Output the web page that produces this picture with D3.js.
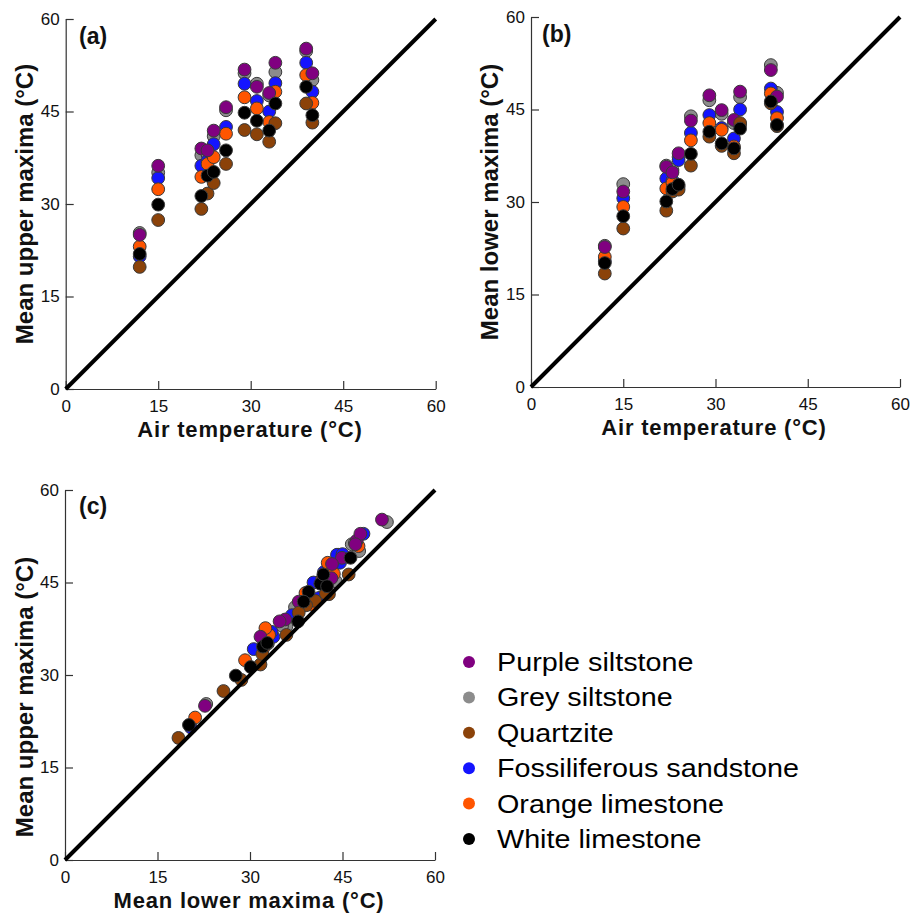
<!DOCTYPE html>
<html>
<head>
<meta charset="utf-8">
<script src="https://cdn.jsdelivr.net/npm/d3@7"></script>
<style>
    body { margin: 0; background: #fff; }
    svg text { font-family: Arial, 'Liberation Sans', sans-serif; }
    .axis path, .axis line { stroke: #333; stroke-width: 1.2; }
    .axis text { font-size: 17px; fill: #111; }
    .axisTitle { font-size: 22px; font-weight: bold; fill: #111; }
    .panelLabel { font-size: 23px; font-weight: bold; fill: #111; }
    .legendText { font-size: 25px; fill: #000; }
</style>
</head>
<body>
<script>

// DATA

const airTemp = [12, 15, 22, 23, 24, 26, 29, 31, 33, 34, 39, 40];

const rockNames = ['Purple siltstone', 'Grey siltstone', 'Quartzite',
    'Fossiliferous sandstone', 'Orange limestone', 'White limestone'];

const rockColors = ['#800080', '#8c8c8c', '#8b4209', '#1414ff', '#ff5500', '#000000'];

// mean upper maxima, one list per rock, same order as airTemp
const upperPurple = [25.0, 36.2, 39.0, 38.7, 41.9, 45.7, 51.8, 49.0, 48.0, 52.9, 55.2, 51.2];
const upperGrey   = [25.3, 35.1, 37.9, 38.0, 41.0, 45.2, 51.2, 49.5, 47.6, 51.4, 54.8, 50.1];
const upperBrown  = [19.8, 27.4, 29.2, 31.7, 33.4, 36.5, 42.0, 41.3, 40.1, 43.1, 46.3, 43.2];
const upperBlue   = [21.5, 34.2, 36.2, 37.0, 39.7, 42.5, 49.5, 46.7, 45.0, 49.6, 52.9, 48.2];
const upperOrange = [23.1, 32.4, 34.4, 36.5, 37.6, 41.4, 47.3, 45.5, 43.3, 48.2, 50.9, 46.4];
const upperBlack  = [21.9, 29.9, 31.3, 34.6, 35.2, 38.7, 44.8, 43.5, 41.9, 46.3, 49.0, 44.4];

// mean lower maxima
const lowerPurple = [22.7, 31.7, 35.7, 34.8, 37.9, 43.2, 47.3, 44.9, 43.3, 47.9, 51.4, 47.1];
const lowerGrey   = [22.9, 32.9, 35.9, 35.2, 37.3, 43.9, 46.5, 44.3, 42.8, 47.0, 52.2, 47.7];
const lowerBrown  = [18.4, 25.7, 28.6, 31.7, 32.0, 35.9, 40.6, 39.1, 37.9, 42.8, 46.0, 42.3];
const lowerBlue   = [20.4, 30.6, 33.8, 33.5, 36.8, 41.2, 44.1, 42.0, 40.3, 45.0, 48.4, 44.6];
const lowerOrange = [21.1, 29.2, 32.2, 33.1, 32.5, 40.0, 42.8, 41.7, 39.0, 42.6, 47.6, 43.6];
const lowerBlack  = [20.1, 27.7, 30.1, 32.1, 32.8, 37.8, 41.4, 39.5, 38.7, 41.9, 46.3, 42.5];

const tickValues = [0, 15, 30, 45, 60];

(function(){

    const upper = [upperPurple, upperGrey, upperBrown, upperBlue, upperOrange, upperBlack];
    const lower = [lowerPurple, lowerGrey, lowerBrown, lowerBlue, lowerOrange, lowerBlack];

    // drawing order of the rocks (index into the lists above)
    const drawOrder = [1, 3, 4, 0, 2, 5];

    const svg = d3
        .select('body')
        .append('svg')
        .attr('width', 913)
        .attr('height', 913);

    window.onload = draw();

// PANELS

function draw(){

    const panels = [
        {label: '(a)', xr: [65.7, 435.7], yr: [389, 19],
            xTitle: 'Air temperature (°C)', yTitle: 'Mean upper maxima (°C)',
            xTitleX: 250, xTitleY: 437, yTitleY: 204, yTitleX: 33, labelX: 79, labelY: 44,
            xs: function(k, i){ return airTemp[i]; },
            ys: function(k, i){ return upper[k][i]; }},
        {label: '(b)', xr: [531, 900], yr: [387, 17],
            xTitle: 'Air temperature (°C)', yTitle: 'Mean lower maxima (°C)',
            xTitleX: 714, xTitleY: 435, yTitleY: 202, yTitleX: 498, labelX: 542, labelY: 42,
            xs: function(k, i){ return airTemp[i]; },
            ys: function(k, i){ return lower[k][i]; }},
        {label: '(c)', xr: [65, 435], yr: [860, 490],
            xTitle: 'Mean lower maxima (°C)', yTitle: 'Mean upper maxima (°C)',
            xTitleX: 249, xTitleY: 908, yTitleY: 697, yTitleX: 33, labelX: 79, labelY: 514,
            xs: function(k, i){ return lower[k][i]; },
            ys: function(k, i){ return upper[k][i]; }}
    ];

    panels.forEach(function(p, n){
        drawPanel(p, n);
    });

    setLegend();
};

function drawPanel(p, n){

    const x = d3.scaleLinear().domain([0, 60]).range(p.xr);
    const y = d3.scaleLinear().domain([0, 60]).range(p.yr);

    const g = svg.append('g').attr('class', 'panel');

    const xAxis = d3.axisBottom(x)
        .tickValues(tickValues)
        .tickSizeInner(-8)
        .tickSizeOuter(0)
        .tickPadding(11);

    const yAxis = d3.axisLeft(y)
        .tickValues(tickValues)
        .tickSizeInner(-8)
        .tickSizeOuter(0)
        .tickPadding(6);

    g.append('g')
        .attr('class', 'axis')
        .attr('transform', 'translate(0,' + p.yr[0] + ')')
        .call(xAxis);

    g.append('g')
        .attr('class', 'axis')
        .attr('transform', 'translate(' + p.xr[0] + ',0)')
        .call(yAxis);

    g.selectAll('.axis').attr('font-size', null).attr('font-family', null);

    // one to one line
    const oneToOne = g
        .append('line')
        .attr('x1', x(0))
        .attr('y1', y(0))
        .attr('x2', x(60))
        .attr('y2', y(60))
        .style('stroke', '#000')
        .style('stroke-width', 4);

    // points
    const points = [];
    drawOrder.forEach(function(k){
        airTemp.forEach(function(t, i){
            points.push({rock: k, x: p.xs(k, i), y: p.ys(k, i)});
        });
    });

    g.selectAll('.dot')
        .data(points)
        .enter()
        .append('circle')
        .attr('class', 'dot')
        .attr('cx', function(d){ return x(d.x); })
        .attr('cy', function(d){ return y(d.y); })
        .attr('r', 6.4)
        .style('fill', function(d){ return rockColors[d.rock]; })
        .style('stroke', '#3a3a3a')
        .style('stroke-width', 1);

    if (n == 2) oneToOne.raise();

    // titles
    g.append('text')
        .attr('class', 'axisTitle')
        .attr('x', p.xTitleX)
        .attr('y', p.xTitleY)
        .attr('text-anchor', 'middle')
        .style('letter-spacing', '0.8px')
        .text(p.xTitle);

    g.append('text')
        .attr('class', 'axisTitle')
        .attr('transform', 'translate(' + p.yTitleX + ',' + p.yTitleY + ') rotate(-90)')
        .attr('text-anchor', 'middle')
        .style('font-size', '24px')
        .text(p.yTitle);

    g.append('text')
        .attr('class', 'panelLabel')
        .attr('x', p.labelX)
        .attr('y', p.labelY)
        .text(p.label);
};

// LEGEND

function setLegend(){

    const legendY = d3.scaleLinear().domain([0, 5]).range([662, 839]);

    const items = svg
        .selectAll('.legendItem')
        .data(rockNames)
        .enter()
        .append('g')
        .attr('class', 'legendItem')
        .attr('transform', function(d, i){
            return 'translate(469,' + legendY(i) + ')';
        });

    items.append('circle')
        .attr('r', 6)
        .style('fill', function(d, i){ return rockColors[i]; });

    items.append('text')
        .attr('class', 'legendText')
        .attr('transform', 'translate(28,9) scale(1.15,1)')
        .text(function(d){ return d; });
};

})();
</script>
</body>
</html>
